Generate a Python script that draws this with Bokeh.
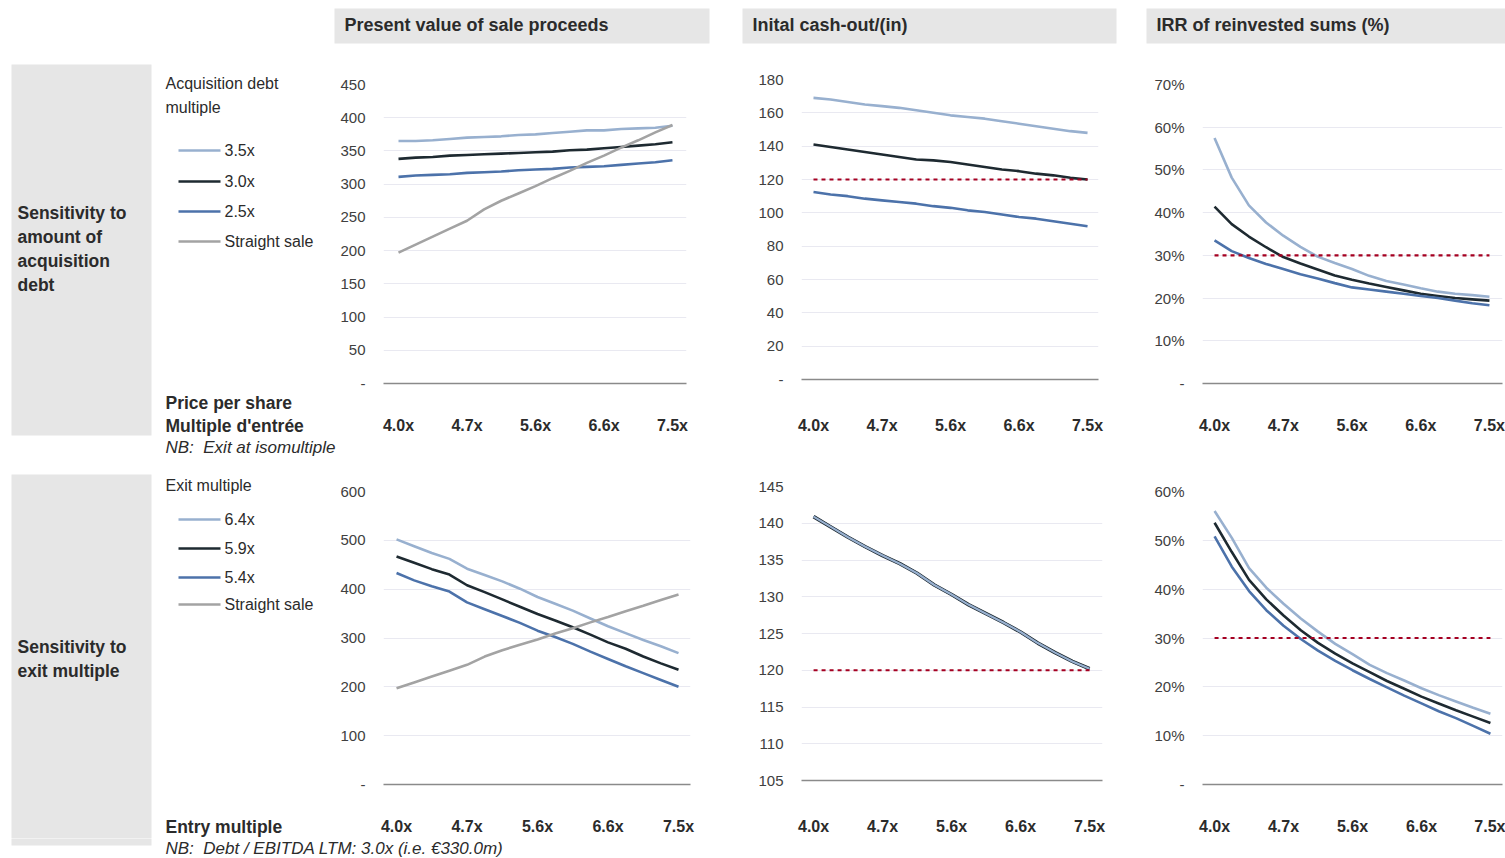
from bokeh.plotting import figure
from bokeh.layouts import column, row
from bokeh.models import Range1d, FixedTicker, PrintfTickFormatter
from bokeh.core.properties import value
from bokeh.embed import file_html
from bokeh.resources import INLINE

# ---------------------------------------------------------------- data
# Entry multiples: 17 points, every fourth one is labelled on the axis
entry_points = list(range(17))
label_points = [0, 4, 8, 12, 16]
entry_multiple_labels = ["4.0x", "4.7x", "5.6x", "6.6x", "7.5x"]

debt_multiples = ["3.5x", "3.0x", "2.5x"]
exit_multiples = ["6.4x", "5.9x", "5.4x"]
straight_sale_name = "Straight sale"

# Sensitivity to acquisition debt
pv_debt_35 = [365, 365, 366, 368, 370, 371, 372, 374, 375, 377, 379, 381, 381, 383, 384, 385, 388]
pv_debt_30 = [338, 340, 341, 343, 344, 345, 346, 347, 348, 349, 351, 352, 354, 356, 358, 360, 363]
pv_debt_25 = [311, 313, 314, 315, 317, 318, 319, 321, 322, 323, 325, 326, 327, 329, 331, 333, 336]
straight_sale = [197, 209, 221, 233, 245, 262, 275, 286, 297, 309, 320, 332, 343, 355, 366, 378, 389]

cash_debt_35 = [169, 168, 166.5, 165, 164, 163, 161.5, 160, 158.5, 157.5, 156.5, 155, 153.5, 152, 150.5, 149, 148]
cash_debt_30 = [141, 139.5, 138, 136.5, 135, 133.5, 132, 131.5, 130.5, 129, 127.5, 126, 125, 123.5, 122.5, 121, 120]
cash_debt_25 = [112.5, 111, 110, 108.5, 107.5, 106.5, 105.5, 104, 103, 101.5, 100.5, 99, 97.5, 96.5, 95, 93.5, 92]

irr_debt_35 = [57.5, 48.2, 41.7, 37.7, 34.6, 32.0, 29.7, 28.2, 26.8, 25.2, 24.0, 23.2, 22.3, 21.5, 21.0, 20.7, 20.3]
irr_debt_30 = [41.4, 37.3, 34.4, 31.9, 29.6, 28.1, 26.7, 25.3, 24.3, 23.4, 22.6, 21.8, 21.0, 20.5, 20.0, 19.7, 19.4]
irr_debt_25 = [33.5, 31.0, 29.4, 28.0, 26.8, 25.6, 24.6, 23.5, 22.5, 22.0, 21.5, 21.0, 20.5, 20.0, 19.4, 18.8, 18.3]

# Sensitivity to exit multiple
pv_exit_64 = [502, 488, 474, 462, 442, 429, 416, 401, 384, 370, 356, 340, 324, 310, 296, 283, 269]
pv_exit_59 = [467, 454, 441, 430, 408, 394, 379, 364, 349, 336, 322, 307, 291, 278, 262, 248, 235]
pv_exit_54 = [433, 418, 406, 395, 373, 359, 345, 331, 315, 302, 288, 272, 257, 242, 228, 214, 200]

cash_exit_64 = [140.9, 139.5, 138.1, 136.8, 135.6, 134.5, 133.2, 131.6, 130.3, 128.9, 127.7, 126.5, 125.2, 123.7, 122.4, 121.2, 120.2]
cash_exit_59 = [140.9, 139.5, 138.1, 136.8, 135.6, 134.5, 133.2, 131.6, 130.3, 128.9, 127.7, 126.5, 125.2, 123.7, 122.4, 121.2, 120.2]
cash_exit_54 = [140.9, 139.5, 138.1, 136.8, 135.6, 134.5, 133.2, 131.6, 130.3, 128.9, 127.7, 126.5, 125.2, 123.7, 122.4, 121.2, 120.2]

irr_exit_64 = [56.0, 50.5, 44.3, 40.3, 37.0, 34.0, 31.3, 28.8, 26.7, 24.5, 22.8, 21.3, 19.7, 18.3, 17.0, 15.7, 14.5]
irr_exit_59 = [53.6, 47.6, 41.9, 37.9, 34.6, 31.6, 29.0, 26.8, 24.8, 23.0, 21.2, 19.6, 18.0, 16.6, 15.2, 13.9, 12.6]
irr_exit_54 = [50.8, 44.6, 39.6, 35.7, 32.5, 29.8, 27.4, 25.3, 23.4, 21.6, 19.9, 18.2, 16.6, 15.0, 13.6, 12.0, 10.4]

# Reference levels
cash_threshold = 120
irr_hurdle = 30

# Value-axis ticks
pv_ticks_top = [0, 50, 100, 150, 200, 250, 300, 350, 400, 450]
cash_ticks_top = [0, 20, 40, 60, 80, 100, 120, 140, 160, 180]
irr_ticks_top = [0, 10, 20, 30, 40, 50, 60, 70]
pv_ticks_bottom = [0, 100, 200, 300, 400, 500, 600]
cash_ticks_bottom = [105, 110, 115, 120, 125, 130, 135, 140, 145]
irr_ticks_bottom = [0, 10, 20, 30, 40, 50, 60]

column_titles = ["Present value of sale proceeds", "Inital cash-out/(in)", "IRR of reinvested sums (%)"]

# ---------------------------------------------------------------- style
FONT = "Liberation Sans"
TEXT = "#2b2b2b"
TICK_TEXT = "#404040"
PANEL_GREY = "#e6e6e6"
GRID = "#e9e9f1"
C_HIGH = "#98b0cf"
C_MID = "#1e2a31"
C_LOW = "#4c72aa"
C_SALE = "#a3a3a3"
C_REF = "#a50021"
LW = 2.6
NBSP = "\u00a0"


def label(p, x, y, s, size, style="normal", color=TEXT, align="left"):
    p.text(x=[x], y=[y], text=[s], text_font=value(FONT), text_font_size=size,
           text_font_style=style, text_color=color, text_align=align,
           text_baseline="middle")


def panel(width, height):
    # plain drawing surface measured in screen pixels, y growing downwards
    p = figure(width=width, height=height, x_range=Range1d(0, width),
               y_range=Range1d(height, 0), output_backend="svg",
               toolbar_location=None, min_border=0, frame_align=False,
               x_axis_type=None, y_axis_type=None)
    p.grid.visible = False
    p.outline_line_color = None
    p.background_fill_color = "white"
    p.border_fill_color = "white"
    return p


def chart(width, height, frame, xr, y_ticks, x_standoff, percent=False):
    left, top, right, bottom = frame
    p = figure(width=width, height=height, output_backend="svg", toolbar_location=None,
               x_range=Range1d(*xr), y_range=Range1d(y_ticks[0], y_ticks[-1]),
               min_border_left=left, min_border_top=top,
               min_border_right=right, min_border_bottom=bottom, frame_align=False)
    p.outline_line_color = None
    p.background_fill_color = "white"
    p.border_fill_color = "white"
    p.xgrid.visible = False
    p.ygrid.grid_line_color = GRID
    p.ygrid.grid_line_width = 1

    ya = p.yaxis[0]
    ya.ticker = FixedTicker(ticks=y_ticks)
    if percent:
        ya.formatter = PrintfTickFormatter(format="%d%%")
    if y_ticks[0] == 0:
        ya.major_label_overrides = {0: "-"}
    ya.axis_line_color = None
    ya.major_tick_line_color = None
    ya.minor_tick_line_color = None
    ya.major_tick_out = 0
    ya.major_tick_in = 0
    ya.minor_tick_out = 0
    ya.major_label_standoff = 18
    ya.major_label_text_font = FONT
    ya.major_label_text_font_size = "15px"
    ya.major_label_text_color = TICK_TEXT

    xa = p.xaxis[0]
    xa.ticker = FixedTicker(ticks=label_points)
    xa.major_label_overrides = dict(zip(label_points, entry_multiple_labels))
    xa.axis_line_color = "#8a8a8a"
    xa.axis_line_width = 1.5
    xa.major_tick_line_color = None
    xa.minor_tick_line_color = None
    xa.major_tick_out = 0
    xa.major_tick_in = 0
    xa.minor_tick_out = 0
    xa.major_label_standoff = x_standoff
    xa.major_label_text_font = FONT
    xa.major_label_text_font_style = "bold"
    xa.major_label_text_font_size = "16px"
    xa.major_label_text_color = TEXT
    return p


def reference(p, level):
    p.line(x=[entry_points[0], entry_points[-1]], y=[level, level],
           line_color=C_REF, line_width=2.2, line_dash="4 4")


TOP_H = 410
BOT_H = 372

# ---------------------------------------------------------------- header strip
header = panel(1505, 56)
header_boxes = [(334, 709), (742, 1116), (1146, 1505)]
for (x0, x1), title in zip(header_boxes, column_titles):
    header.quad(left=[x0], right=[x1], top=[8], bottom=[43], fill_color=PANEL_GREY, line_color=None)
    label(header, x0 + 10, 24, title, "18px", "bold")

# ---------------------------------------------------------------- top row
lt = panel(337, TOP_H)
lt.quad(left=[11], right=[151], top=[8], bottom=[379], fill_color=PANEL_GREY, line_color=None)
for i, s in enumerate(["Sensitivity to", "amount of", "acquisition", "debt"]):
    label(lt, 17, 156 + 24 * i, s, "17.5px", "bold")
label(lt, 165, 27, "Acquisition debt", "16px")
label(lt, 165, 51, "multiple", "16px")
for y, name, col in zip([94, 125, 155, 185], debt_multiples + [straight_sale_name],
                        [C_HIGH, C_MID, C_LOW, C_SALE]):
    lt.segment(x0=[178], y0=[y], x1=[220], y1=[y], line_color=col, line_width=LW)
    label(lt, 224, y, name, "16px")
label(lt, 165, 346, "Price per share", "17.5px", "bold")
label(lt, 165, 369, "Multiple d'entrée", "17.5px", "bold")
label(lt, 165, 391, "NB:" + NBSP + " Exit at isomultiple", "17px", "italic")

pv_top = chart(375, TOP_H, (46, 28, 26, 83), (-0.876, 16.82), pv_ticks_top, 33)
for ys, col in zip([pv_debt_35, pv_debt_30, pv_debt_25, straight_sale], [C_HIGH, C_MID, C_LOW, C_SALE]):
    pv_top.line(entry_points, ys, line_color=col, line_width=LW)

cash_top = chart(408, TOP_H, (89, 23, 22, 87), (-0.70, 16.64), cash_ticks_top, 37)
for ys, col in zip([cash_debt_35, cash_debt_30, cash_debt_25], [C_HIGH, C_MID, C_LOW]):
    cash_top.line(entry_points, ys, line_color=col, line_width=LW)
reference(cash_top, cash_threshold)

irr_top = chart(385, TOP_H, (82, 28, 3, 83), (-0.70, 16.76), irr_ticks_top, 33, percent=True)
for ys, col in zip([irr_debt_35, irr_debt_30, irr_debt_25], [C_HIGH, C_MID, C_LOW]):
    irr_top.line(entry_points, ys, line_color=col, line_width=LW)
reference(irr_top, irr_hurdle)

# ---------------------------------------------------------------- bottom row
lb = panel(337, BOT_H)
lb.quad(left=[11], right=[151], top=[8], bottom=[BOT_H + 2], fill_color=PANEL_GREY, line_color=None)
label(lb, 17, 180, "Sensitivity to", "17.5px", "bold")
label(lb, 17, 204, "exit multiple", "17.5px", "bold")
label(lb, 165, 19, "Exit multiple", "16px")
for y, name, col in zip([53, 82, 111, 138], exit_multiples + [straight_sale_name],
                        [C_HIGH, C_MID, C_LOW, C_SALE]):
    lb.segment(x0=[178], y0=[y], x1=[220], y1=[y], line_color=col, line_width=LW)
    label(lb, 224, y, name, "16px")
label(lb, 165, 360, "Entry multiple", "17.5px", "bold")

pv_bot = chart(375, BOT_H, (46, 25, 22, 54), (-0.74, 16.68), pv_ticks_bottom, 33)
for ys, col in zip([pv_exit_64, pv_exit_59, pv_exit_54, straight_sale], [C_HIGH, C_MID, C_LOW, C_SALE]):
    pv_bot.line(entry_points, ys, line_color=col, line_width=LW)

cash_bot = chart(408, BOT_H, (89, 20, 18, 58), (-0.70, 16.75), cash_ticks_bottom, 37)
for ys, col, w in zip([cash_exit_54, cash_exit_59, cash_exit_64], [C_LOW, C_MID, C_HIGH], [LW, 3.6, 2.2]):
    cash_bot.line(entry_points, ys, line_color=col, line_width=w)
reference(cash_bot, cash_threshold)

irr_bot = chart(385, BOT_H, (82, 25, 3, 54), (-0.70, 16.70), irr_ticks_bottom, 33, percent=True)
for ys, col in zip([irr_exit_64, irr_exit_59, irr_exit_54], [C_HIGH, C_MID, C_LOW]):
    irr_bot.line(entry_points, ys, line_color=col, line_width=LW)
reference(irr_bot, irr_hurdle)

# ---------------------------------------------------------------- footer
footer = panel(1505, 20)
footer.quad(left=[11], right=[151], top=[-2], bottom=[7], fill_color=PANEL_GREY, line_color=None)
label(footer, 165, 10, "NB:" + NBSP + " Debt / EBITDA LTM: 3.0x (i.e. €330.0m)", "17px", "italic")

page = column(
    header,
    row(lt, pv_top, cash_top, irr_top),
    row(lb, pv_bot, cash_bot, irr_bot),
    footer,
)

with open("out.html", "w") as f:
    f.write(file_html(page, INLINE, title="Sensitivity analysis"))
